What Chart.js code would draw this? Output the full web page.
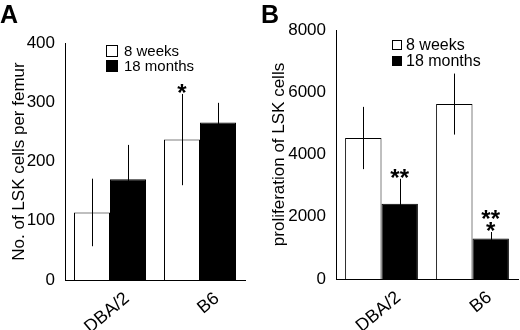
<!DOCTYPE html>
<html>
<head>
<meta charset="utf-8">
<script src="https://cdn.jsdelivr.net/npm/chart.js@4/dist/chart.umd.min.js"></script>
<style>
  body { margin: 0; background: #fff; }
  #wrap { position: relative; width: 520px; height: 330px; font-family: "Liberation Sans", Arial, sans-serif; }
  .panel { position: absolute; top: 0; width: 260px; height: 330px; }
  .tag { position: absolute; top: 0; font-size: 25px; font-weight: bold; line-height: 25px; }
</style>
</head>
<body>
<div id="wrap">
  <div class="panel" style="left:0"><canvas id="chartA" width="260" height="330"></canvas></div>
  <div class="panel" style="left:260px"><canvas id="chartB" width="260" height="330"></canvas></div>
  <div class="tag" style="left:0px;top:2px">A</div>
  <div class="tag" style="left:261px;top:2px">B</div>
</div>
<script>
// data
const strains = ['DBA/2', 'B6'];
const seriesNames = ['8 weeks', '18 months'];

// A: number of LSK cells per femur
const lskYoung = [114, 237];
const lskOld = [170, 266];
const lskYoungErr = [57, 77];
const lskOldErr = [58, 33];
const lskYoungStars = [[], ['*']];
const lskOldStars = [[], []];
const lskTicks = [0, 100, 200, 300, 400];

// B: proliferation of LSK cells
const prolYoung = [4530, 5620];
const prolOld = [2420, 1300];
const prolYoungErr = [1000, 980];
const prolOldErr = [800, 210];
const prolYoungStars = [[], []];
const prolOldStars = [['**'], ['**', '*']];
const prolTicks = [0, 2000, 4000, 6000, 8000];

const FONT = '"Liberation Sans", Arial, sans-serif';

// error bars + significance stars, drawn through the y scale
const errorBars = {
  id: 'errorBars',
  afterDatasetsDraw(chart) {
    const ctx = chart.ctx;
    const y = chart.scales.y;
    ctx.save();
    chart.data.datasets.forEach((ds, i) => {
      const meta = chart.getDatasetMeta(i);
      meta.data.forEach((bar, j) => {
        const v = ds.data[j], e = ds.errors[j];
        const top = y.getPixelForValue(v + e);
        const bot = y.getPixelForValue(v - e);
        const x = Math.round(bar.x) + 0.5;
        ctx.strokeStyle = '#000';
        ctx.lineWidth = 1;
        ctx.beginPath();
        ctx.moveTo(x, top);
        ctx.lineTo(x, bot);
        ctx.stroke();
        // stars, bottom row first
        const rows = ds.stars[j];
        ctx.fillStyle = '#000';
        ctx.font = 'bold 24px ' + FONT;
        ctx.textAlign = 'center';
        ctx.textBaseline = 'alphabetic';
        for (let k = 0; k < rows.length; k++) {
          const cy = top - 6 - (rows.length - 1 - k) * 12;
          ctx.fillText(rows[k], bar.x, cy + 13);
        }
      });
    });
    ctx.restore();
  }
};

// small boxed legend inside the plot
const boxLegend = {
  id: 'boxLegend',
  afterDraw(chart, args, o) {
    const ctx = chart.ctx;
    ctx.save();
    ctx.font = o.size + 'px ' + FONT;
    ctx.textBaseline = 'middle';
    ctx.textAlign = 'left';
    chart.data.datasets.forEach((ds, i) => {
      const cy = o.y + i * o.row;
      ctx.fillStyle = ds.backgroundColor;
      ctx.fillRect(o.x, cy - o.box / 2, o.box, o.box);
      ctx.strokeStyle = '#000';
      ctx.lineWidth = 1;
      ctx.strokeRect(o.x + 0.5, cy - o.box / 2 + 0.5, o.box - 1, o.box - 1);
      ctx.fillStyle = '#000';
      ctx.fillText(ds.label, o.x + o.box + o.gap, cy + 1);
    });
    ctx.restore();
  }
};

function makeChart(id, young, old, yErr, oErr, yStars, oStars, ticks, title, lay, legend) {
  return new Chart(document.getElementById(id), {
    type: 'bar',
    data: {
      labels: strains,
      datasets: [
        { label: seriesNames[0], data: young, errors: yErr, stars: yStars,
          backgroundColor: '#ffffff', borderColor: '#000', borderWidth: 1,
          categoryPercentage: 0.8, barPercentage: 1.0 },
        { label: seriesNames[1], data: old, errors: oErr, stars: oStars,
          backgroundColor: '#000000', borderColor: '#000', borderWidth: 1,
          categoryPercentage: 0.8, barPercentage: 1.0 }
      ]
    },
    options: {
      responsive: false,
      animation: false,
      layout: { padding: { top: lay.top, right: lay.right, left: 0, bottom: 0 } },
      plugins: {
        legend: { display: false },
        tooltip: { enabled: false },
        boxLegend: legend
      },
      scales: {
        x: {
          grid: { display: false },
          border: { display: true, color: '#000', width: 1 },
          ticks: { color: '#000', font: { family: FONT, size: 18 }, minRotation: 40, maxRotation: 40,
                   padding: 0, labelOffset: 17 },
          afterFit: s => { s.height = lay.xh; }
        },
        y: {
          min: ticks[0], max: ticks[ticks.length - 1],
          afterBuildTicks: s => { s.ticks = ticks.map(v => ({ value: v })); },
          grid: { display: false },
          border: { display: true, color: '#000', width: 1 },
          ticks: { color: '#000', font: { family: FONT, size: 17 }, padding: 2, callback: v => String(v) },
          title: { display: true, text: title, color: '#000', font: { family: FONT, size: 17 }, padding: { top: 9, bottom: 0 } },
          afterFit: s => { s.width = lay.yw; }
        }
      }
    },
    plugins: [errorBars, boxLegend]
  });
}

makeChart('chartA', lskYoung, lskOld, lskYoungErr, lskOldErr, lskYoungStars, lskOldStars, lskTicks,
  'No. of LSK cells per femur',
  { top: 43, right: 15, xh: 50, yw: 65 },
  { x: 106, y: 51, row: 15, box: 12, gap: 6, size: 15 });

makeChart('chartB', prolYoung, prolOld, prolYoungErr, prolOldErr, prolYoungStars, prolOldStars, prolTicks,
  'proliferation of LSK cells',
  { top: 30, right: 2, xh: 51, yw: 76 },
  { x: 132, y: 45, row: 16, box: 10, gap: 4, size: 16 });
</script>
</body>
</html>
